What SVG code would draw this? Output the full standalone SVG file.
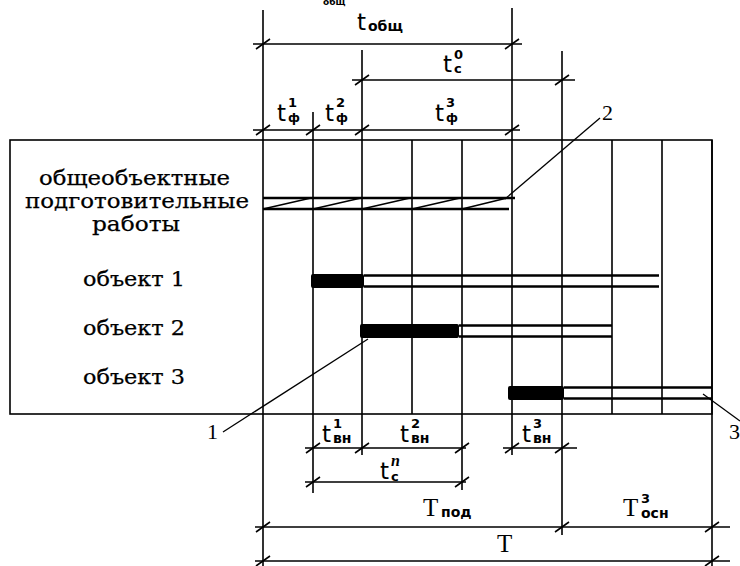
<svg xmlns="http://www.w3.org/2000/svg" xmlns:xlink="http://www.w3.org/1999/xlink" width="740" height="566" viewBox="0 0 740 566">
<style>
.ln{stroke:#000;stroke-width:1.6;fill:none}
.bl{stroke:#000;stroke-width:2.6;fill:none}
.ld{stroke:#000;stroke-width:1.3;fill:none}
.lbl{font-family:"DejaVu Serif",serif;font-size:20px;fill:#000;stroke:#000;stroke-width:0.25}
.t{font-family:"DejaVu Sans",sans-serif;font-size:23px;fill:#000}
.s{font-family:"DejaVu Sans",sans-serif;font-size:14px;font-weight:bold}
.p{font-family:"DejaVu Sans",sans-serif;font-size:13px;font-weight:bold}
.f{font-family:"DejaVu Sans",sans-serif;font-size:12px;font-weight:bold}
.it{font-family:"Liberation Serif",serif;font-style:italic;font-size:16px;font-weight:bold}
.T{font-family:"Liberation Serif",serif;font-size:25px;fill:#000}
.num{font-family:"Liberation Serif",serif;font-size:22px;fill:#000}
</style>
<defs>
<path id="tk" d="M-7,5 L7,-5" stroke="#000" stroke-width="1.6"/>
</defs>
<rect width="740" height="566" fill="#fff"/>

<g id="grid">
<rect class="ln" x="10" y="140" width="702" height="274"/>
<path class="ln" d="M263,10 V566 M313,112 V493 M362,50 V455 M412,140 V414 M462,140 V490 M512,8 V455 M562,51 V535 M612,140 V414 M662,140 V414 M712,140 V566"/>
</g>

<g id="row-prep">
<text class="lbl" x="39" y="185" textLength="191" lengthAdjust="spacingAndGlyphs">общеобъектные</text>
<text class="lbl" x="25" y="208" textLength="224" lengthAdjust="spacingAndGlyphs">подготовительные</text>
<text class="lbl" x="92" y="231" textLength="88" lengthAdjust="spacingAndGlyphs">работы</text>
<path class="bl" d="M263,198 H515 M263,209 H509"/>
<path class="ln" d="M263,209 L311,198 M313,209 L361,198 M362,209 L410,198 M412,209 L460,198 M462,209 L507,198"/>
</g>

<g id="obj1">
<text class="lbl" x="83" y="286" textLength="102" lengthAdjust="spacingAndGlyphs">объект 1</text>
<rect x="311" y="274" width="53" height="14" rx="2" fill="#000"/>
<path class="bl" d="M364,275.5 H659 M364,286.5 H659"/>
</g>

<g id="obj2">
<text class="lbl" x="83" y="335" textLength="102" lengthAdjust="spacingAndGlyphs">объект 2</text>
<rect x="360" y="324" width="99" height="14" rx="2" fill="#000"/>
<path class="bl" d="M459,325.5 H612 M459,336.5 H612"/>
</g>

<g id="obj3">
<text class="lbl" x="83" y="384" textLength="102" lengthAdjust="spacingAndGlyphs">объект 3</text>
<rect x="508" y="386" width="56" height="14" rx="2" fill="#000"/>
<path class="bl" d="M564,387.5 H712 M564,398.5 H712"/>
</g>

<g id="connectors">
<path class="ld" d="M505,199 L600,118"/>
<path class="ld" d="M368,339 L223,432"/>
<path class="ld" d="M703,394 L740,421"/>
</g>

<g id="callouts">
<text class="num" x="602" y="120">2</text>
<text class="num" x="207" y="439">1</text>
<text class="num" x="729" y="439">3</text>
</g>

<g id="dimensions">
<path class="ln" d="M253,44 H522 M352,80 H575 M253,130 H520 M305,448 H466 M503,448 H577 M305,482 H466 M255,527 H730 M255,561 H730"/>
<use href="#tk" x="263" y="44"/><use href="#tk" x="512" y="44"/>
<use href="#tk" x="362" y="80"/><use href="#tk" x="562" y="80"/>
<use href="#tk" x="263" y="130"/><use href="#tk" x="313" y="130"/><use href="#tk" x="362" y="130"/><use href="#tk" x="512" y="130"/>
<use href="#tk" x="313" y="448"/><use href="#tk" x="362" y="448"/><use href="#tk" x="462" y="448"/>
<use href="#tk" x="512" y="448"/><use href="#tk" x="562" y="448"/>
<use href="#tk" x="313" y="482"/><use href="#tk" x="462" y="482"/>
<use href="#tk" x="263" y="527"/><use href="#tk" x="562" y="527"/><use href="#tk" x="712" y="527"/>
<use href="#tk" x="263" y="561"/><use href="#tk" x="712" y="561"/>

<text class="s" x="323" y="5" style="font-size:9px">общ</text>
<text class="t" x="357" y="30">t<tspan class="s" x="368" y="31">общ</tspan></text>
<text class="t" x="443" y="72">t<tspan class="p" x="454" y="59">0</tspan><tspan class="p" x="454" y="73">c</tspan></text>
<text class="t" x="277" y="121">t<tspan class="p" x="288" y="107">1</tspan><tspan class="f" x="288" y="122">ф</tspan></text>
<text class="t" x="325" y="121">t<tspan class="p" x="336" y="107">2</tspan><tspan class="f" x="336" y="122">ф</tspan></text>
<text class="t" x="435" y="121">t<tspan class="p" x="446" y="107">3</tspan><tspan class="f" x="446" y="122">ф</tspan></text>

<text class="t" x="322" y="442">t<tspan class="p" x="333" y="428">1</tspan><tspan class="s" x="333" y="443">вн</tspan></text>
<text class="t" x="400" y="442">t<tspan class="p" x="411" y="428">2</tspan><tspan class="s" x="411" y="443">вн</tspan></text>
<text class="t" x="522" y="442">t<tspan class="p" x="533" y="428">3</tspan><tspan class="s" x="533" y="443">вн</tspan></text>
<text class="t" x="380" y="479">t<tspan class="it" x="391" y="466">n</tspan><tspan class="p" x="391" y="481">c</tspan></text>

<text class="T" x="423" y="516">T<tspan class="s" x="441" y="517">под</tspan></text>
<text class="T" x="623" y="516">T<tspan class="p" x="641" y="503">3</tspan><tspan class="s" x="641" y="518">осн</tspan></text>
<text class="T" x="497" y="552">T</text>
</g>
</svg>
